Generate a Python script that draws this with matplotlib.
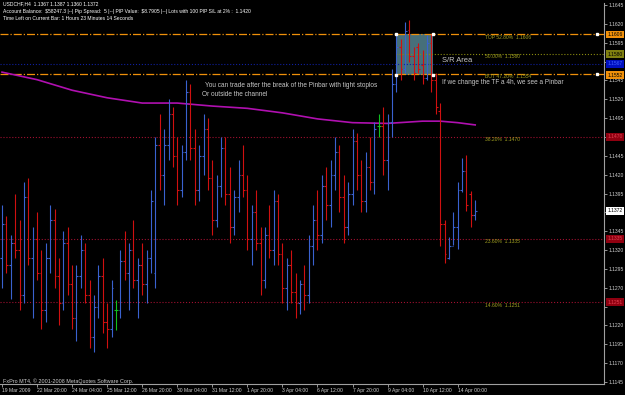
import matplotlib
matplotlib.use("Agg")
import matplotlib.pyplot as plt
import matplotlib.transforms as mtransforms
from matplotlib.patches import Rectangle

plt.rcParams['font.family'] = ['Liberation Sans', 'DejaVu Sans']

# H4 bars USDCHF
opens = [1.1310, 1.1355, 1.1300, 1.1330, 1.1320, 1.1260, 1.1390, 1.1310, 1.1335, 1.1290,
         1.1240, 1.1310, 1.1360, 1.1285, 1.1250, 1.1330, 1.1275, 1.1230, 1.1285, 1.1320,
         1.1260, 1.1205, 1.1245, 1.1285, 1.1225, 1.1215, 1.1240, 1.1240, 1.1305, 1.1290,
         1.1320, 1.1280, 1.1300, 1.1275, 1.1310, 1.1290, 1.1460, 1.1420, 1.1460, 1.1500,
         1.1445, 1.1400, 1.1450, 1.1530, 1.1455, 1.1400, 1.1445, 1.1480, 1.1415, 1.1360,
         1.1405, 1.1455, 1.1395, 1.1350, 1.1390, 1.1420, 1.1400, 1.1335, 1.1370, 1.1330,
         1.1280, 1.1340, 1.1320, 1.1385, 1.1315, 1.1270, 1.1300, 1.1265, 1.1250, 1.1275,
         1.1260, 1.1325, 1.1360, 1.1340, 1.1405, 1.1380, 1.1420, 1.1450, 1.1390, 1.1350,
         1.1395, 1.1465, 1.1420, 1.1385, 1.1430, 1.1410, 1.1485, 1.1485, 1.1440, 1.1490,
         1.1540, 1.1590, 1.1560, 1.1612, 1.1578, 1.1590, 1.1565, 1.1548, 1.1595, 1.1545,
         1.1505, 1.1355, 1.1310, 1.1325, 1.1350, 1.1400, 1.1425, 1.1395, 1.1367]
highs = [1.1380, 1.1365, 1.1340, 1.1395, 1.1360, 1.1410, 1.1415, 1.1350, 1.1370, 1.1320,
         1.1330, 1.1380, 1.1375, 1.1310, 1.1345, 1.1350, 1.1300, 1.1300, 1.1340, 1.1330,
         1.1280, 1.1260, 1.1300, 1.1310, 1.1250, 1.1280, 1.1254, 1.1320, 1.1345, 1.1330,
         1.1360, 1.1310, 1.1330, 1.1320, 1.1400, 1.1470, 1.1500, 1.1480, 1.1520, 1.1510,
         1.1470, 1.1460, 1.1546, 1.1540, 1.1480, 1.1460, 1.1500, 1.1495, 1.1440, 1.1420,
         1.1470, 1.1470, 1.1430, 1.1400, 1.1440, 1.1460, 1.1420, 1.1380, 1.1400, 1.1350,
         1.1350, 1.1380, 1.1400, 1.1395, 1.1330, 1.1310, 1.1320, 1.1290, 1.1280, 1.1300,
         1.1340, 1.1380, 1.1400, 1.1420, 1.1430, 1.1440, 1.1470, 1.1460, 1.1420, 1.1410,
         1.1480, 1.1475, 1.1440, 1.1450, 1.1470, 1.1490, 1.1500, 1.1510, 1.1500, 1.1560,
         1.1605, 1.1600, 1.1622, 1.1625, 1.1590, 1.1595, 1.1585, 1.1605, 1.1606, 1.1555,
         1.1515, 1.1360, 1.1337, 1.1370, 1.1410, 1.1442, 1.1446, 1.1398, 1.1387]
lows = [1.1270, 1.1290, 1.1255, 1.1310, 1.1240, 1.1250, 1.1300, 1.1230, 1.1280, 1.1215,
        1.1225, 1.1290, 1.1270, 1.1220, 1.1240, 1.1260, 1.1215, 1.1200, 1.1270, 1.1250,
        1.1190, 1.1185, 1.1230, 1.1210, 1.1190, 1.1205, 1.1214, 1.1230, 1.1280, 1.1240,
        1.1270, 1.1230, 1.1260, 1.1250, 1.1290, 1.1270, 1.1400, 1.1380, 1.1440, 1.1430,
        1.1380, 1.1390, 1.1440, 1.1440, 1.1380, 1.1385, 1.1420, 1.1400, 1.1340, 1.1350,
        1.1390, 1.1380, 1.1330, 1.1340, 1.1370, 1.1390, 1.1320, 1.1300, 1.1320, 1.1260,
        1.1270, 1.1310, 1.1300, 1.1300, 1.1250, 1.1240, 1.1250, 1.1230, 1.1235, 1.1240,
        1.1250, 1.1300, 1.1320, 1.1330, 1.1360, 1.1350, 1.1400, 1.1370, 1.1330, 1.1340,
        1.1380, 1.1400, 1.1370, 1.1370, 1.1400, 1.1395, 1.1470, 1.1420, 1.1400, 1.1470,
        1.1530, 1.1545, 1.1555, 1.1570, 1.1545, 1.1555, 1.1540, 1.1545, 1.1530, 1.1500,
        1.1325, 1.1303, 1.1308, 1.1327, 1.1322, 1.1397, 1.1372, 1.1351, 1.1360]
closes = [1.1355, 1.1300, 1.1330, 1.1320, 1.1260, 1.1390, 1.1310, 1.1335, 1.1290, 1.1240,
          1.1310, 1.1360, 1.1285, 1.1250, 1.1330, 1.1275, 1.1230, 1.1285, 1.1320, 1.1260,
          1.1205, 1.1245, 1.1285, 1.1225, 1.1215, 1.1270, 1.1240, 1.1305, 1.1290, 1.1320,
          1.1280, 1.1300, 1.1275, 1.1310, 1.1385, 1.1460, 1.1420, 1.1460, 1.1500, 1.1445,
          1.1400, 1.1450, 1.1530, 1.1455, 1.1400, 1.1445, 1.1480, 1.1415, 1.1360, 1.1405,
          1.1455, 1.1395, 1.1350, 1.1390, 1.1420, 1.1400, 1.1335, 1.1370, 1.1330, 1.1280,
          1.1340, 1.1320, 1.1385, 1.1315, 1.1270, 1.1300, 1.1265, 1.1250, 1.1275, 1.1260,
          1.1325, 1.1360, 1.1340, 1.1405, 1.1380, 1.1420, 1.1450, 1.1390, 1.1350, 1.1395,
          1.1465, 1.1420, 1.1385, 1.1430, 1.1410, 1.1480, 1.1485, 1.1440, 1.1490, 1.1540,
          1.1590, 1.1560, 1.1610, 1.1578, 1.1555, 1.1560, 1.1548, 1.1595, 1.1545, 1.1510,
          1.1355, 1.1315, 1.1325, 1.1350, 1.1400, 1.1425, 1.1380, 1.1367, 1.1372]

# moving average (magenta), sampled every 8 bars
ma_idx = [0, 8, 16, 24, 32, 40, 48, 56, 64, 72, 80, 88, 96, 100, 104, 108]
ma_val = [1.1556, 1.1546, 1.1532, 1.1522, 1.1515, 1.1515, 1.1511, 1.1508, 1.1502,
          1.1494, 1.1489, 1.1488, 1.1491, 1.1491, 1.1489, 1.1486]

date_idx = [0, 8, 16, 24, 32, 40, 48, 56, 64, 72, 80, 88, 96, 104]
date_lbl = ["19 Mar 2009", "22 Mar 20:00", "24 Mar 04:00", "25 Mar 12:00", "26 Mar 20:00",
            "30 Mar 04:00", "31 Mar 12:00", "1 Apr 20:00", "3 Apr 04:00", "6 Apr 12:00",
            "7 Apr 20:00", "9 Apr 04:00", "10 Apr 12:00", "14 Apr 00:00"]

# fibo levels
fib_price = [1.1606, 1.1580, 1.1554, 1.1470, 1.1335, 1.1251]
fib_text = ["TOP 52.80%", "50.00%", "BOT 47.20%", "38.20%", "23.60%", "14.60%"]
blue_line = 1.1567
sr_box = (90.0, 98.4, 1.1552, 1.1606)

fig = plt.figure(figsize=(6.25, 3.95), dpi=100, facecolor='black')
ax = fig.add_axes([0, 11 / 395, 604 / 625, 381 / 395], facecolor='black')
ax.set_xlim(-0.46, 137.4)
ax.set_ylim(1.11424, 1.16477)

# S/R box
ax.add_patch(Rectangle((sr_box[0], sr_box[2]), sr_box[1] - sr_box[0], sr_box[3] - sr_box[2],
                       facecolor='#466f7a', edgecolor='none', zorder=1))

# horizontal levels
ax.axhline(fib_price[0], color='#f0900a', lw=0.9, ls='-.', zorder=2)
ax.axhline(fib_price[2], color='#f0900a', lw=0.9, ls='-.', zorder=2)
ax.hlines(fib_price[1], sr_box[0], 137.4, color='#8a8a10', lw=0.8, ls=':', zorder=2)
ax.axhline(blue_line, color='#1020a0', lw=0.8, ls=':', zorder=2)
for p in fib_price[3:]:
    ax.axhline(p, color='#a01030', lw=0.8, ls=':', zorder=2)
for p, t in zip(fib_price, fib_text):
    ax.text(110.2, p - 0.00006, f"{t}  {p:.4f}", color='#a0a020', fontsize=3.6,
            va='top', ha='left', zorder=3)

# moving average
ax.plot(ma_idx, ma_val, color='#b010b0', lw=1.2, zorder=2)

# OHLC bars
for i in range(len(opens)):
    o, h, l, c = opens[i], highs[i], lows[i], closes[i]
    if c > o:
        col = '#3a62d0'
    elif c < o:
        col = '#d01010'
    else:
        col = '#10c020'
    ax.vlines(i, l, h, color=col, lw=0.8, zorder=4)
    ax.hlines(o, i - 0.4, i, color=col, lw=0.8, zorder=4)
    ax.hlines(c, i, i + 0.4, color=col, lw=0.8, zorder=4)

# box anchors
for bx in (sr_box[0], sr_box[1]):
    for by in (sr_box[2], sr_box[3]):
        ax.plot(bx, by, 's', color='white', ms=1.5, zorder=5)
ax.plot(135.8, fib_price[0], 's', color='white', ms=1.5, zorder=5)
ax.plot(135.8, fib_price[2], 's', color='white', ms=1.5, zorder=5)

# notes
ax.text(100.5, 1.15721, "S/R Area", color='#c8c8c8', fontsize=5.4, va='center')
ax.text(100.5, 1.15429, "If we change the TF a 4h, we see a Pinbar", color='#c8c8c8',
        fontsize=4.7, va='center')
ax.text(46.3, 1.15389, "You can trade after the break of the Pinbar with tight stoplos",
        color='#c8c8c8', fontsize=4.7, va='center')
ax.text(45.7, 1.15270, "Or outside the channel", color='#c8c8c8', fontsize=4.7, va='center')

# axes styling
for s in ['top', 'left']:
    ax.spines[s].set_visible(False)
ax.spines['right'].set_color('#a0a0a0')
ax.spines['bottom'].set_color('#a0a0a0')
ax.spines['right'].set_linewidth(0.8)
ax.spines['bottom'].set_linewidth(0.8)

# coloured price tags on the scale
tags = [(1.1606, '#f0900a', 'black'), (1.1580, '#808010', 'black'), (1.1567, '#0010c0', '#4060ff'),
        (1.1552, '#f0900a', 'black'), (1.1470, '#900010', '#e04050'), (1.1372, 'white', 'black'),
        (1.1335, '#900010', '#e04050'), (1.1251, '#900010', '#e04050')]

yt = [round(1.1145 + 0.0025 * k, 4) for k in range(21)]
ax.yaxis.tick_right()
ax.set_yticks(yt)
# labels hidden behind a price tag are left blank
ax.set_yticklabels(["" if any(abs(v - p) < 0.00065 for p, _, _ in tags) else f"{v:.4f}"
                    for v in yt])
ax.tick_params(axis='y', colors='#d0d0d0', labelsize=3.6, length=2, width=0.5, pad=1.5)
ax.set_xticks(date_idx)
ax.set_xticklabels(date_lbl, ha='left')
ax.tick_params(axis='x', colors='#d0d0d0', labelsize=3.6, length=2, width=0.5, pad=0.8)

tr = mtransforms.blended_transform_factory(ax.transAxes, ax.transData)
for p, bg, fg in tags:
    ax.text(1.006, p, f"{p:.4f}", transform=tr, fontsize=3.6, color=fg, va='center', ha='left',
            bbox=dict(boxstyle='square,pad=0.25', fc=bg, ec='none'), zorder=6, clip_on=False)

# header and footer
hdr = ["USDCHF,H4  1.1367 1.1387 1.1360 1.1372",
       "Account Balance:  \\$58247.3 |--| Pip Spread:  5 |--| PIP Value:  \\$8.7905 |--| Lots with 100 PIP S/L at 2% :  1.1420",
       "Time Left on Current Bar: 1 Hours 23 Minutes 14 Seconds"]
for k, line in enumerate(hdr):
    fig.text(3 / 625, 1 - (1.5 + k * 7.2) / 395, line, color='white', fontsize=3.6, va='top')
fig.text(3 / 625, 1 - 381 / 395, "FxPro MT4, \u00a9 2001-2008 MetaQuotes Software Corp.",
         color='#d0d0d0', fontsize=3.9, va='center')

fig.savefig('out.png', dpi=100, facecolor='black')
